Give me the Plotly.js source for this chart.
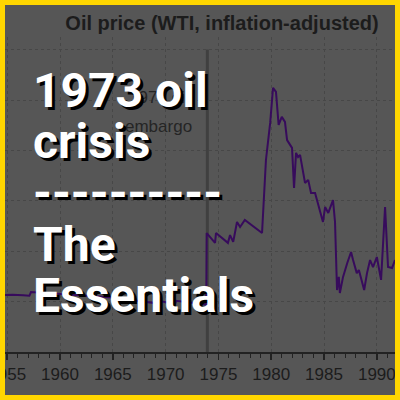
<!DOCTYPE html>
<html>
<head>
<meta charset="utf-8">
<script src="https://cdn.plot.ly/plotly-3.0.1.min.js"></script>
<style>
  html, body { margin: 0; padding: 0; background: #FFD600; }
  #wrap { position: relative; width: 400px; height: 400px; background: #FFD600; overflow: hidden; }
  #chart { position: absolute; left: 5px; top: 5px; width: 390px; height: 390px; overflow: hidden; }
</style>
</head>
<body>
<div id="wrap"><div id="chart"></div></div>
<script>
// ---- data ----
const years = [1954.79, 1955.5, 1956.5, 1957.1, 1957.25, 1958, 1959, 1960, 1961, 1962, 1963, 1964, 1965, 1966, 1967, 1968, 1969.0, 1969.1, 1970, 1970.9, 1971.0, 1972, 1973, 1973.85,
  1973.89, 1974.68, 1974.77, 1975.9, 1976.1, 1976.4, 1976.76, 1977.05, 1977.5, 1979.13, 1979.5, 1979.9, 1980.17, 1980.45, 1980.7, 1981.0, 1981.3, 1981.5, 1981.97, 1982.16, 1982.35, 1982.54, 1982.73, 1983.0, 1983.2, 1983.5, 1983.77, 1984.15, 1984.4, 1984.6, 1984.9, 1985.1, 1985.4, 1985.85, 1986.04, 1986.23, 1986.4, 1986.5, 1986.8, 1987.2, 1987.56, 1987.75, 1988.1, 1988.3, 1988.6, 1988.8, 1989.07, 1989.36, 1989.64, 1990.0, 1990.4, 1990.78, 1991.06, 1991.44, 1991.72];
const prices = [22.6, 22.7, 22.5, 22.3, 23.8, 23.6, 23.2, 23.0, 22.8, 22.5, 22.3, 22.0, 21.6, 21.0, 20.5, 20.0, 19.4, 20.4, 19.8, 19.2, 20.3, 19.8, 19.5, 18.8,
  47.2, 43.3, 47.2, 43.3, 46.4, 43.7, 51.6, 49.6, 52.4, 47.2, 76.2, 90.9, 104.8, 103.2, 90.1, 93.3, 91.3, 84.1, 81.0, 65.1, 79.0, 77.4, 78.2, 71.0, 67.1, 68.3, 63.1, 63.1, 59.1, 56.3, 51.6, 57.5, 55.2, 60.3, 51.6, 24.6, 29.8, 23.4, 29.8, 35.3, 39.7, 36.5, 31.3, 32.5, 27.4, 24.6, 31.3, 36.5, 33.7, 37.7, 28.6, 57.5, 33.7, 33.3, 36.5];
const embargoYear = [1973.95];
const chartTitle = "Oil price (WTI, inflation-adjusted)";
const embargoLabel = ["1973 oil", "embargo"];
const overlayLines = ["1973 oil", "crisis", "----------", "The", "Essentials"];

// ---- layout helpers (pixel -> paper) ----
const W = 390, H = 390, T = 32, B = 43;
const plotH = H - T - B;
const px = x => x / W;                       // div x -> paper x
const py = y => (H - B - y) / plotH;         // div y -> paper y

const annotations = [];
// embargo label
const embY = [92, 121];
embargoLabel.forEach((t, i) => annotations.push({
  text: t, xref: 'paper', yref: 'paper', x: px(153.5), y: py(embY[i]),
  xanchor: 'center', yanchor: 'middle', showarrow: false,
  font: {family: 'Liberation Sans, Arial, sans-serif', size: 17, color: '#252525'}
}));
// overlay headline
const ovY = [85.5, 136.5, 187.5, 239.5, 290.5];
overlayLines.forEach((t, i) => annotations.push({
  text: t, xref: 'paper', yref: 'paper', x: px(26), y: py(ovY[i]),
  xanchor: 'left', yanchor: 'middle', showarrow: false,
  font: {family: 'Roboto, sans-serif', size: 48, weight: 700, color: '#ffffff', shadow: '3px 3px 0px #000'}
}));

const trace = {
  x: years, y: prices, type: 'scatter', mode: 'lines',
  line: {color: '#370b5c', width: 2}, hoverinfo: 'skip'
};

const layout = {
  width: W, height: H,
  margin: {l: 0, r: 0, t: T, b: B, pad: 0},
  paper_bgcolor: '#565656', plot_bgcolor: '#565656',
  showlegend: false,
  title: {text: '<b>' + chartTitle + '</b>', x: px(217), xanchor: 'center', xref: 'container',
          y: 1 - 18 / H, yanchor: 'middle', yref: 'container',
          font: {family: 'Liberation Sans, Arial, sans-serif', size: 20, color: '#1c1c1c'}},
  xaxis: {
    range: [1954.79, 1991.72], tick0: 1955, dtick: 5,
    ticks: 'outside', ticklen: 6, tickwidth: 1.5, tickcolor: '#222',
    showline: true, linecolor: '#222', linewidth: 2,
    showgrid: true, gridcolor: '#474747', griddash: 'dot', gridwidth: 1,
    zeroline: false, ticklabeloverflow: 'allow',
    tickfont: {family: 'Liberation Sans, Arial, sans-serif', size: 17, color: '#1c1c1c'},
    minor: {dtick: 1, tick0: 1955, ticks: 'outside', ticklen: 4, tickwidth: 1, tickcolor: '#222', showgrid: false}
  },
  yaxis: {
    range: [0, 125], dtick: 20, showticklabels: false, ticks: '',
    showgrid: true, gridcolor: '#474747', griddash: 'dot', gridwidth: 1,
    zeroline: false, showline: false
  },
  shapes: [{
    type: 'line', xref: 'x', yref: 'y', x0: embargoYear[0], x1: embargoYear[0], y0: 0, y1: 120,
    line: {color: '#404040', width: 3}, layer: 'below'
  }],
  annotations: annotations
};

Plotly.newPlot('chart', [trace], layout, {staticPlot: true, displayModeBar: false});
</script>
</body>
</html>
